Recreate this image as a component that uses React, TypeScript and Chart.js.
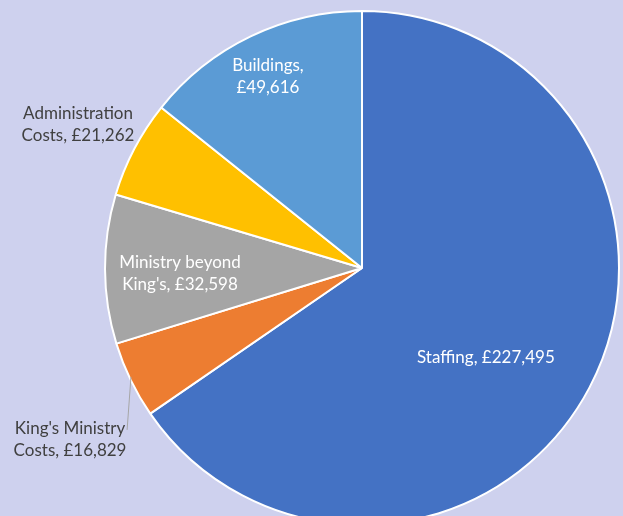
import React, { useEffect, useRef } from "react";
import { Chart, registerables } from "chart.js";

Chart.register(...registerables);

const categories = ["Staffing", "King's Ministry Costs", "Ministry beyond King's", "Administration Costs", "Buildings"];
const values = [227495, 16829, 32598, 21262, 49616];
const labelLines = [
  ["Staffing, £227,495"],
  ["King's Ministry", "Costs, £16,829"],
  ["Ministry beyond", "King's, £32,598"],
  ["Administration", "Costs, £21,262"],
  ["Buildings,", "£49,616"],
];

const colors = ["#4472C4", "#ED7D31", "#A5A5A5", "#FFC000", "#5B9BD5"];
const labelColors = ["#ffffff", "#404040", "#ffffff", "#404040", "#ffffff"];
// label centres relative to pie centre, in units of the radius
const labelPos = [
  [0.482, 0.342],
  [-1.136, 0.66],
  [-0.708, 0.012],
  [-1.105, -0.568],
  [-0.366, -0.751],
];
const BG = "#CED1EE";

const labelPlugin = {
  id: "sliceLabels",
  afterDatasetsDraw(chart: any) {
    const meta = chart.getDatasetMeta(0);
    const arc0 = meta.data[0];
    const cx = arc0.x;
    const cy = arc0.y;
    const R = arc0.outerRadius;
    const ctx = chart.ctx;
    ctx.save();
    // leader line for King's Ministry Costs
    ctx.strokeStyle = "#A6A6A6";
    ctx.lineWidth = 1;
    ctx.beginPath();
    ctx.moveTo(cx - 0.899 * R, cy + 0.424 * R);
    ctx.lineTo(cx - 0.914 * R, cy + 0.63 * R);
    ctx.stroke();
    ctx.font = "17px Lato, 'Open Sans', sans-serif";
    ctx.textAlign = "center";
    ctx.textBaseline = "middle";
    const lh = 22;
    labelLines.forEach((lines, i) => {
      const x = cx + labelPos[i][0] * R;
      const y = cy + labelPos[i][1] * R + 2;
      ctx.fillStyle = labelColors[i];
      const start = y - ((lines.length - 1) * lh) / 2;
      lines.forEach((t, j) => ctx.fillText(t, x, start + j * lh));
    });
    ctx.restore();
  },
};

export default function App() {
  const ref = useRef<HTMLCanvasElement | null>(null);
  useEffect(() => {
    if (!ref.current) return;
    const chart = new Chart(ref.current, {
      type: "pie",
      data: {
        labels: categories,
        datasets: [
          {
            data: values,
            backgroundColor: colors,
            borderColor: "#ffffff",
            borderWidth: 2,
          },
        ],
      },
      options: {
        responsive: false,
        animation: false,
        layout: { padding: { left: 104, right: 3, top: 10, bottom: 14 } },
        plugins: {
          legend: { display: false },
          tooltip: { enabled: false },
          title: { display: false },
        },
      },
      plugins: [labelPlugin],
    });
    return () => chart.destroy();
  }, []);
  return (
    <div
      style={{
        position: "fixed",
        left: 0,
        top: 0,
        width: 623,
        height: 516,
        overflow: "hidden",
        background: BG,
      }}
    >
      <canvas ref={ref} width={623} height={540} style={{ display: "block", width: 623, height: 540 }} />
    </div>
  );
}
